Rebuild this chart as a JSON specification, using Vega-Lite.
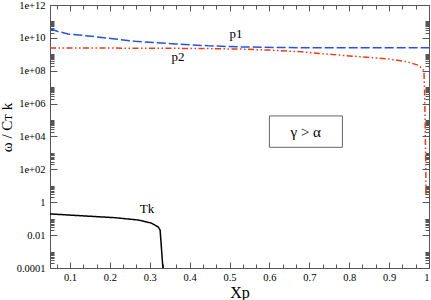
{
  "$schema": "https://vega.github.io/schema/vega-lite/v6.json",
  "width": 379,
  "height": 263,
  "autosize": {"type": "none"},
  "padding": {"left": 50, "top": 5, "right": 2, "bottom": 32},
  "config": {
    "view": {"stroke": "#555", "strokeWidth": 1},
    "axis": {"domain": false, "grid": false, "labelFont": "Liberation Serif", "titleFont": "Liberation Serif", "labelColor": "#000", "titleColor": "#000", "tickColor": "#555", "labelFontSize": 10.5, "labelOverlap": false, "labelFlush": false, "titleFontWeight": "normal"}
  },
  "datasets": {
    "curves": [
      {"series": "p1", "x": 0.05, "y": 3.6e10},
      {"series": "p1", "x": 0.07, "y": 2.45e10},
      {"series": "p1", "x": 0.095, "y": 1.74e10},
      {"series": "p1", "x": 0.153, "y": 1.26e10},
      {"series": "p1", "x": 0.213, "y": 8.5e9},
      {"series": "p1", "x": 0.263, "y": 6.2e9},
      {"series": "p1", "x": 0.313, "y": 5.1e9},
      {"series": "p1", "x": 0.363, "y": 4.3e9},
      {"series": "p1", "x": 0.446, "y": 3.3e9},
      {"series": "p1", "x": 0.531, "y": 2.8e9},
      {"series": "p1", "x": 0.682, "y": 2.5e9},
      {"series": "p1", "x": 1.0, "y": 2.5e9},
      {"series": "p2", "x": 0.05, "y": 2.4e9},
      {"series": "p2", "x": 0.15, "y": 2.4e9},
      {"series": "p2", "x": 0.25, "y": 2.37e9},
      {"series": "p2", "x": 0.35, "y": 2.33e9},
      {"series": "p2", "x": 0.45, "y": 2.22e9},
      {"series": "p2", "x": 0.53, "y": 2.08e9},
      {"series": "p2", "x": 0.6, "y": 1.8e9},
      {"series": "p2", "x": 0.68, "y": 1.42e9},
      {"series": "p2", "x": 0.78, "y": 8.7e8},
      {"series": "p2", "x": 0.845, "y": 6.6e8},
      {"series": "p2", "x": 0.9, "y": 5.2e8},
      {"series": "p2", "x": 0.945, "y": 3.5e8},
      {"series": "p2", "x": 0.972, "y": 2.2e8},
      {"series": "p2", "x": 0.985, "y": 1.3e8},
      {"series": "p2", "x": 0.9875, "y": 7e7},
      {"series": "p2", "x": 0.989, "y": 6e6},
      {"series": "p2", "x": 0.9905, "y": 3e4},
      {"series": "p2", "x": 0.992, "y": 100},
      {"series": "p2", "x": 0.9925, "y": 2.5},
      {"series": "Tk", "x": 0.05, "y": 0.195},
      {"series": "Tk", "x": 0.128, "y": 0.151},
      {"series": "Tk", "x": 0.213, "y": 0.115},
      {"series": "Tk", "x": 0.271, "y": 0.083},
      {"series": "Tk", "x": 0.303, "y": 0.055},
      {"series": "Tk", "x": 0.321, "y": 0.032},
      {"series": "Tk", "x": 0.326, "y": 0.0204},
      {"series": "Tk", "x": 0.333, "y": 0.0001}
    ],
    "labels": [
      {"label": "p1", "x": 0.516, "y": 1.74e10},
      {"label": "p2", "x": 0.371, "y": 6.9e8},
      {"label": "Tk", "x": 0.293, "y": 0.39}
    ],
    "box": [
      {"x1": 0.6, "x2": 0.783, "y1": 2200, "y2": 178000, "xt": 0.691, "yt": 19500, "text": "γ > α"}
    ]
  },
  "layer": [
    {
      "data": {"name": "box"},
      "mark": {"type": "rect", "fill": "#ffffff", "stroke": "#666", "strokeWidth": 1},
      "encoding": {
        "x": {"field": "x1", "type": "quantitative", "scale": {"domain": [0.05, 1], "nice": false, "zero": false}, "axis": null},
        "x2": {"field": "x2"},
        "y": {"field": "y1", "type": "quantitative", "scale": {"type": "log", "domain": [0.0001, 1e12], "nice": false}, "axis": null},
        "y2": {"field": "y2"}
      }
    },
    {
      "data": {"name": "curves"},
      "mark": {"type": "line", "strokeWidth": 1.5, "clip": true},
      "encoding": {
        "x": {"field": "x", "type": "quantitative", "scale": {"domain": [0.05, 1], "nice": false, "zero": false},
          "axis": {"orient": "bottom", "title": "Xp", "titleFontSize": 16, "titlePadding": 2, "labelOverlap": false, "ticks": false, "labelFlush": true,
            "values": [0.1, 0.2, 0.3, 0.4, 0.5, 0.6, 0.7, 0.8, 0.9, 1],
            "labelExpr": "format(datum.value, '~g')",
            "labelPadding": 4}},
        "y": {"field": "y", "type": "quantitative", "scale": {"type": "log", "domain": [0.0001, 1e12], "nice": false},
          "axis": {"orient": "left", "title": "ω / Cᴛ k", "titleFontSize": 15, "titlePadding": 2, "titleY": 122, "labelOverlap": false, "ticks": false,
            "values": [0.0001, 0.01, 1, 100, 10000, 1e6, 1e8, 1e10, 1e12],
            "labelExpr": "datum.value == 1 ? '1' : datum.value == 0.01 ? '0.01' : datum.value == 0.0001 ? '0.0001' : datum.value == 100 ? '1e+02' : datum.value == 10000 ? '1e+04' : datum.value == 1e6 ? '1e+06' : datum.value == 1e8 ? '1e+08' : datum.value == 1e10 ? '1e+10' : '1e+12'",
            "labelPadding": 5}},
        "color": {"field": "series", "type": "nominal", "scale": {"domain": ["p1", "p2", "Tk"], "range": ["#2850e8", "#f03a10", "#000000"]}, "legend": null},
        "strokeDash": {"field": "series", "type": "nominal", "scale": {"domain": ["p1", "p2", "Tk"], "range": [[9, 3], [6, 2.5, 1.5, 2.5, 1.5, 2.5], [1, 0]]}, "legend": null}
      }
    },
    {
      "data": {"name": "curves"},
      "mark": {"type": "point", "opacity": 0},
      "encoding": {
        "x": {"field": "x", "type": "quantitative", "scale": {"domain": [0.05, 1], "nice": false, "zero": false},
          "axis": {"orient": "bottom", "title": null, "labels": false,
            "values": [0.0667, 0.1, 0.1333, 0.1667, 0.2, 0.2333, 0.2667, 0.3, 0.3333, 0.3667, 0.4, 0.4333, 0.4667, 0.5, 0.5333, 0.5667, 0.6, 0.6333, 0.6667, 0.7, 0.7333, 0.7667, 0.8, 0.8333, 0.8667, 0.9, 0.9333, 0.9667, 1],
            "tickSize": {"condition": {"test": "abs(datum.value*10 - round(datum.value*10)) < 0.001", "value": -6}, "value": -4}}},
        "y": {"field": "y", "type": "quantitative", "scale": {"type": "log", "domain": [0.0001, 1e12], "nice": false},
          "axis": {"orient": "left", "title": null, "labels": false,
            "values": [0.0001, 0.0002, 0.0003, 0.0004, 0.0005, 0.0006, 0.0007, 0.0008, 0.0009, 0.001, 0.01, 0.02, 0.03, 0.04, 0.05, 0.06, 0.07, 0.08, 0.09, 0.1, 1, 2, 3, 4, 5, 6, 7, 8, 9, 10, 100, 200, 300, 400, 500, 600, 700, 800, 900, 1000, 10000, 20000, 30000, 40000, 50000, 60000, 70000, 80000, 90000, 100000, 1e6, 2e6, 3e6, 4e6, 5e6, 6e6, 7e6, 8e6, 9e6, 1e7, 1e8, 2e8, 3e8, 4e8, 5e8, 6e8, 7e8, 8e8, 9e8, 1e9, 1e10, 2e10, 3e10, 4e10, 5e10, 6e10, 7e10, 8e10, 9e10, 1e11, 1e12],
            "tickSize": {"condition": {"test": "abs(log(datum.value)/LN10 - round(log(datum.value)/LN10)) < 1e-6 && round(log(datum.value)/LN10) % 2 == 0", "value": -7}, "value": -4}}}
      }
    },
    {
      "data": {"name": "curves"},
      "mark": {"type": "point", "opacity": 0},
      "encoding": {
        "x": {"field": "x", "type": "quantitative", "scale": {"domain": [0.05, 1], "nice": false, "zero": false},
          "axis": {"orient": "top", "title": null, "labels": false,
            "values": [0.0667, 0.1, 0.1333, 0.1667, 0.2, 0.2333, 0.2667, 0.3, 0.3333, 0.3667, 0.4, 0.4333, 0.4667, 0.5, 0.5333, 0.5667, 0.6, 0.6333, 0.6667, 0.7, 0.7333, 0.7667, 0.8, 0.8333, 0.8667, 0.9, 0.9333, 0.9667, 1],
            "tickSize": {"condition": {"test": "abs(datum.value*10 - round(datum.value*10)) < 0.001", "value": -6}, "value": -4}}},
        "y": {"field": "y", "type": "quantitative", "scale": {"type": "log", "domain": [0.0001, 1e12], "nice": false},
          "axis": {"orient": "right", "title": null, "labels": false,
            "values": [0.0001, 0.0002, 0.0003, 0.0004, 0.0005, 0.0006, 0.0007, 0.0008, 0.0009, 0.001, 0.01, 0.02, 0.03, 0.04, 0.05, 0.06, 0.07, 0.08, 0.09, 0.1, 1, 2, 3, 4, 5, 6, 7, 8, 9, 10, 100, 200, 300, 400, 500, 600, 700, 800, 900, 1000, 10000, 20000, 30000, 40000, 50000, 60000, 70000, 80000, 90000, 100000, 1e6, 2e6, 3e6, 4e6, 5e6, 6e6, 7e6, 8e6, 9e6, 1e7, 1e8, 2e8, 3e8, 4e8, 5e8, 6e8, 7e8, 8e8, 9e8, 1e9, 1e10, 2e10, 3e10, 4e10, 5e10, 6e10, 7e10, 8e10, 9e10, 1e11, 1e12],
            "tickSize": {"condition": {"test": "abs(log(datum.value)/LN10 - round(log(datum.value)/LN10)) < 1e-6 && round(log(datum.value)/LN10) % 2 == 0", "value": -7}, "value": -4}}}
      }
    },
    {
      "data": {"name": "labels"},
      "mark": {"type": "text", "font": "Liberation Serif", "fontSize": 13, "color": "#000"},
      "encoding": {
        "x": {"field": "x", "type": "quantitative", "scale": {"domain": [0.05, 1], "nice": false, "zero": false}, "axis": null},
        "y": {"field": "y", "type": "quantitative", "scale": {"type": "log", "domain": [0.0001, 1e12], "nice": false}, "axis": null},
        "text": {"field": "label"}
      }
    },
    {
      "data": {"name": "box"},
      "mark": {"type": "text", "font": "Liberation Serif", "fontSize": 15, "color": "#000"},
      "encoding": {
        "x": {"field": "xt", "type": "quantitative", "scale": {"domain": [0.05, 1], "nice": false, "zero": false}, "axis": null},
        "y": {"field": "yt", "type": "quantitative", "scale": {"type": "log", "domain": [0.0001, 1e12], "nice": false}, "axis": null},
        "text": {"field": "text"}
      }
    }
  ],
  "resolve": {"axis": {"x": "independent", "y": "independent"}}
}
